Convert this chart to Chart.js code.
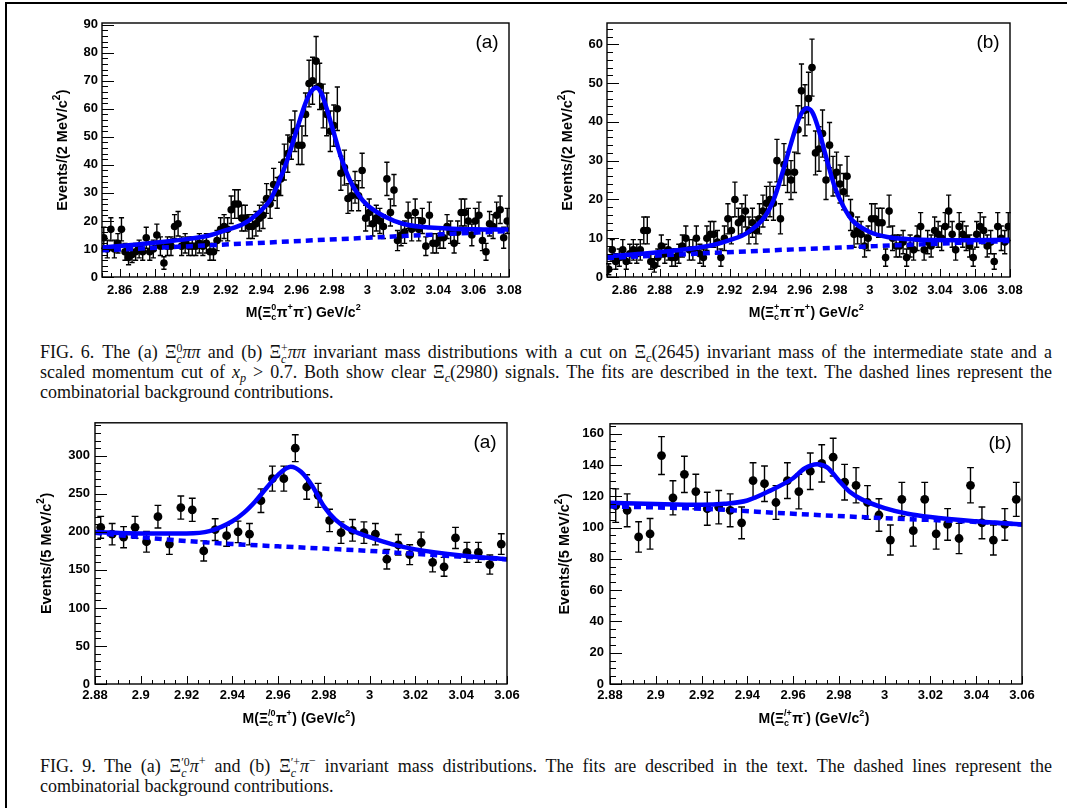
<!DOCTYPE html>
<html>
<head>
<meta charset="utf-8">
<title>Xi_c pi pi and Xi_c' pi invariant mass distributions</title>
<script src="https://cdn.jsdelivr.net/npm/chart.js@4.4.1/dist/chart.umd.min.js"></script>
<style>
  html, body { margin: 0; padding: 0; background: #fff; }
  body { width: 1067px; height: 808px; position: relative; overflow: hidden;
         font-family: "Liberation Serif", "Times New Roman", serif; }
  canvas { position: absolute; }
  .edge { position: absolute; background: #000; }
  .cap { position: absolute; left: 40px; width: 1012px; font-size: 18px; color: #111; }
  .ln { height: 20px; line-height: 20px; }
  .j { text-align: justify; text-align-last: justify; }
  .gap { display: inline-block; width: 8px; }
  .ss { display: inline-block; vertical-align: -0.42em; font-size: 0.66em; line-height: 0.95em; }
  .ss > span { display: block; }
  sub, sup { font-size: 0.68em; line-height: 0; }
  sub { vertical-align: -0.3em; }
  sup { vertical-align: 0.55em; }
</style>
</head>
<body>
<div class="edge" style="left:5px;top:2px;width:2px;height:806px"></div>
<div class="edge" style="left:5px;top:2px;width:1062px;height:2px"></div>

<canvas id="c1" width="530" height="330" style="left:0px;top:0px"></canvas>
<canvas id="c2" width="537" height="330" style="left:530px;top:0px"></canvas>
<canvas id="c3" width="530" height="325" style="left:0px;top:410px"></canvas>
<canvas id="c4" width="537" height="325" style="left:530px;top:410px"></canvas>

<div class="cap" style="top:342px">
  <div class="ln j">FIG. 6.<span class="gap"></span>The (a) Ξ<span class="ss"><span>0</span><span><i>c</i></span></span><i>ππ</i> and (b) Ξ<span class="ss"><span>+</span><span><i>c</i></span></span><i>ππ</i> invariant mass distributions with a cut on Ξ<sub><i>c</i></sub>(2645) invariant mass of the intermediate state and a</div>
  <div class="ln j">scaled momentum cut of <i>x</i><sub><i>p</i></sub> &gt; 0.7. Both show clear Ξ<sub><i>c</i></sub>(2980) signals. The fits are described in the text. The dashed lines represent the</div>
  <div class="ln">combinatorial background contributions.</div>
</div>

<div class="cap" style="top:756px">
  <div class="ln j">FIG. 9.<span class="gap"></span>The (a) Ξ<span class="ss"><span>′0</span><span><i>c</i></span></span><i>π</i><sup>+</sup> and (b) Ξ<span class="ss"><span>′+</span><span><i>c</i></span></span><i>π</i><sup>−</sup> invariant mass distributions. The fits are described in the text. The dashed lines represent the</div>
  <div class="ln">combinatorial background contributions.</div>
</div>

<script>
// ---------------- histogram contents (events per bin) ----------------
// FIG. 6: 2 MeV/c^2 bins from 2.85 to 3.08 GeV/c^2
const binsFig6 = { low: 2.85, width: 0.002 };
const countsXi0PiPi = [
  14, 10, 17, 10, 12, 17, 9, 7, 8, 9,
  10, 9, 14, 9, 10, 15, 11, 5, 11, 11,
  18, 19, 11, 12, 11, 11, 11, 12, 11, 12,
  9, 9, 13, 17, 18, 17, 24, 26, 26, 21,
  21, 18, 18, 19, 21, 22, 28, 26, 33, 30,
  35, 41, 44, 49, 52, 47, 47, 58, 69, 70,
  77, 68, 61, 58, 52, 54, 60, 37, 39, 28,
  29, 32, 29, 38, 21, 23, 19, 21, 20, 18,
  35, 23, 31, 13, 15, 16, 22, 17, 23, 17,
  20, 11, 22, 12, 12, 14, 14, 18, 16, 12,
  16, 23, 23, 20, 15, 20, 22, 13, 9, 19,
  18, 22, 24, 14, 20
];
const countsXiPlusPiPi = [
  2, 7, 4, 5, 7, 4, 6, 7, 6, 7,
  12, 12, 4, 3, 5, 8, 6, 7, 5, 5,
  6, 8, 10, 7, 7, 10, 6, 5, 10, 11,
  11, 9, 5, 10, 15, 12, 20, 14, 15, 17,
  12, 14, 12, 15, 17, 19, 20, 19, 30, 15,
  29, 27, 25, 27, 38, 48, 43, 46, 54, 32,
  33, 37, 25, 34, 26, 27, 24, 22, 26, 16,
  11, 12, 11, 8, 10, 15, 15, 14, 14, 5,
  17, 10, 8, 8, 9, 5, 8, 7, 10, 13,
  7, 9, 8, 12, 11, 10, 13, 17, 11, 7,
  13, 11, 10, 8, 5, 11, 13, 12, 8, 9,
  4, 13, 10, 9, 13
];
// FIG. 9: 5 MeV/c^2 bins from 2.88 to 3.06 GeV/c^2
const binsFig9 = { low: 2.88, width: 0.005 };
const countsXiPrime0Pi = [
  206, 197, 193, 206, 187, 220, 184, 232, 229, 175,
  203, 195, 200, 197, 241, 270, 270, 310, 259, 248,
  215, 199, 202, 199, 197, 164, 183, 170, 186, 160,
  154, 192, 173, 173, 157, 184
];
const countsXiPrimePlusPi = [
  114, 111, 94, 96, 146, 119, 134, 123, 112, 113,
  111, 103, 130, 128, 116, 130, 123, 136, 141, 145,
  129, 127, 116, 108, 92, 118, 98, 118, 96, 102,
  93, 127, 103, 92, 102, 118
];

// ---------------- fitted curves (total fit and background) ----------------
const fitMassA6 = [2.85, 2.87, 2.89, 2.91, 2.92, 2.93, 2.94, 2.945, 2.95, 2.955, 2.96, 2.965, 2.968, 2.971, 2.974, 2.977, 2.98, 2.985, 2.99, 2.995, 3.00, 3.01, 3.02, 3.03, 3.04, 3.06, 3.08];
const fitValA6  = [10.5, 11.6, 12.9, 14.7, 16.7, 19.0, 23.8, 27.4, 34.0, 42.3, 52.4, 62.0, 66.0, 67.5, 65.5, 60.0, 53.6, 42.9, 34.6, 29.2, 25.6, 21.5, 19.0, 17.9, 17.5, 17.0, 16.9];
const bkgMassA6 = [2.85, 2.90, 2.95, 3.00, 3.05, 3.08];
const bkgValA6  = [9.5, 11.0, 12.5, 14.0, 15.5, 16.4];

const fitMassB6 = [2.85, 2.87, 2.89, 2.91, 2.92, 2.93, 2.94, 2.945, 2.95, 2.955, 2.96, 2.964, 2.967, 2.97, 2.975, 2.98, 2.985, 2.99, 3.00, 3.01, 3.03, 3.05, 3.08];
const fitValB6  = [5.3, 6.0, 6.9, 8.2, 9.5, 11.4, 15.5, 19.8, 26.7, 34.4, 41.3, 43.5, 42.6, 39.2, 31.0, 23.2, 18.1, 14.6, 11.6, 10.3, 9.6, 9.5, 9.6];
const bkgMassB6 = [2.85, 2.90, 2.95, 3.00, 3.05, 3.08];
const bkgValB6  = [4.9, 6.0, 7.0, 7.9, 8.8, 9.3];

const fitMassA9 = [2.88, 2.90, 2.92, 2.93, 2.94, 2.945, 2.95, 2.955, 2.96, 2.9655, 2.97, 2.975, 2.98, 2.985, 2.99, 3.00, 3.01, 3.02, 3.04, 3.06];
const fitValA9  = [200, 198, 198, 201, 214, 225, 240, 258, 275, 285.6, 279, 260, 233.5, 216, 205, 193, 183.5, 177, 169, 164];
const bkgMassA9 = [2.88, 2.90, 2.92, 2.94, 2.96, 2.98, 3.00, 3.02, 3.04, 3.06];
const bkgValA9  = [198.7, 193, 188, 184, 181, 178, 175, 171, 167.4, 164];

const fitMassB9 = [2.88, 2.90, 2.92, 2.93, 2.94, 2.95, 2.96, 2.965, 2.9705, 2.975, 2.98, 2.985, 2.99, 3.00, 3.01, 3.02, 3.04, 3.06];
const fitValB9  = [115.8, 115.0, 114.5, 115.2, 117.3, 123.6, 131.5, 137.7, 140.4, 138.3, 130.0, 122.5, 118.0, 112.4, 108.8, 106.7, 104.0, 102.0];
const bkgMassB9 = [2.88, 2.92, 2.96, 3.00, 3.04, 3.06];
const bkgValB9  = [113.5, 112.0, 108.8, 106.0, 103.6, 102.0];

// ---------------- axis ticks and titles ----------------
const xTicksFig6 = [2.86, 2.88, 2.9, 2.92, 2.94, 2.96, 2.98, 3, 3.02, 3.04, 3.06, 3.08];
const xTicksFig9 = [2.88, 2.9, 2.92, 2.94, 2.96, 2.98, 3, 3.02, 3.04, 3.06];
const yTicksA6 = [0, 10, 20, 30, 40, 50, 60, 70, 80, 90];
const yTicksB6 = [0, 10, 20, 30, 40, 50, 60];
const yTicksA9 = [0, 50, 100, 150, 200, 250, 300];
const yTicksB9 = [0, 20, 40, 60, 80, 100, 120, 140, 160];

const xTitleA6 = 'M(Ξ_{c}^{0}π^{+}π^{-}) GeV/c^{2}';
const xTitleB6 = 'M(Ξ_{c}^{+}π^{-}π^{+}) GeV/c^{2}';
const xTitleA9 = 'M(Ξ_{c}^{/0}π^{+}) (GeV/c^{2})';
const xTitleB9 = 'M(Ξ_{c}^{/+}π^{-}) (GeV/c^{2})';
const yTitle6 = 'Events/(2 MeV/c^{2})';
const yTitle9 = 'Events/(5 MeV/c^{2})';

// ---------------- helpers ----------------
const SANS = '"Liberation Sans", Arial, Helvetica, sans-serif';

function histPoints(counts, bins) {
  // bin centres with Poisson (sqrt N) uncertainties
  return counts.map((n, i) => ({ x: bins.low + (i + 0.5) * bins.width, y: n, e: Math.sqrt(n) }));
}
function curvePoints(xs, ys) { return xs.map((x, i) => ({ x, y: ys[i] })); }

// tiny markup parser: "_{..}" subscript, "^{..}" superscript, adjacent pair stacks
function parseRich(src) {
  const out = [];
  let i = 0, buf = '';
  const grab = () => { const j = src.indexOf('}', i + 2); const t = src.slice(i + 2, j); i = j + 1; return t; };
  while (i < src.length) {
    const ch = src[i];
    if ((ch === '_' || ch === '^') && src[i + 1] === '{') {
      if (buf) { out.push({ t: buf }); buf = ''; }
      const first = ch;
      const a = grab();
      let sub = first === '_' ? a : '';
      let sup = first === '^' ? a : '';
      const nx = src[i];
      if ((nx === '_' || nx === '^') && nx !== first && src[i + 1] === '{') {
        const b = grab();
        if (nx === '_') sub = b; else sup = b;
      }
      out.push({ sub, sup });
    } else { buf += ch; i++; }
  }
  if (buf) out.push({ t: buf });
  return out;
}

function drawRich(ctx, src, cx, cy, size, angle) {
  const parts = parseRich(src);
  const big = `bold ${size}px ${SANS}`;
  const small = `bold ${Math.round(size * 0.66)}px ${SANS}`;
  let total = 0;
  parts.forEach(p => {
    if (p.t !== undefined) { ctx.font = big; p.w = ctx.measureText(p.t).width; }
    else { ctx.font = small; p.w = Math.max(ctx.measureText(p.sub).width, ctx.measureText(p.sup).width) + 0.5; }
    total += p.w;
  });
  ctx.save();
  ctx.translate(cx, cy);
  ctx.rotate(angle);
  ctx.fillStyle = '#000';
  ctx.textBaseline = 'middle';
  ctx.textAlign = 'left';
  let x = -total / 2;
  parts.forEach(p => {
    if (p.t !== undefined) { ctx.font = big; ctx.fillText(p.t, x, 0); }
    else {
      ctx.font = small;
      if (p.sup) ctx.fillText(p.sup, x, -0.4 * size);
      if (p.sub) ctx.fillText(p.sub, x, 0.3 * size);
    }
    x += p.w;
  });
  ctx.restore();
}

// ROOT-like frame: inner tick marks, titles, pad label, error bars
function rootPad(P) {
  return {
    id: 'rootPad',
    beforeDatasetsDraw(chart) {
      const ctx = chart.ctx, xs = chart.scales.x, ys = chart.scales.y;
      ctx.save();
      ctx.strokeStyle = '#000';
      ctx.lineWidth = 1.4;
      P.points.forEach(p => {
        const px = xs.getPixelForValue(p.x);
        const lo = ys.getPixelForValue(p.y - p.e), hi = ys.getPixelForValue(p.y + p.e);
        ctx.beginPath();
        ctx.moveTo(px, lo); ctx.lineTo(px, hi);
        ctx.moveTo(px - P.cap, lo); ctx.lineTo(px + P.cap, lo);
        ctx.moveTo(px - P.cap, hi); ctx.lineTo(px + P.cap, hi);
        ctx.stroke();
      });
      ctx.restore();
    },
    afterDraw(chart) {
      const ctx = chart.ctx, xs = chart.scales.x, ys = chart.scales.y;
      const a = chart.chartArea;
      ctx.save();
      ctx.strokeStyle = '#000';
      ctx.lineWidth = 1;
      ctx.beginPath();
      // y axis ticks (pointing into the frame)
      const ny = Math.round(P.yMax / P.yMinor);
      for (let i = 0; i <= ny; i++) {
        const v = i * P.yMinor;
        if (v > P.yMax) break;
        const major = P.yTicks.some(t => Math.abs(t - v) < 1e-9);
        const py = Math.round(ys.getPixelForValue(v)) + 0.5;
        ctx.moveTo(a.left, py); ctx.lineTo(a.left + (major ? 12 : 6), py);
      }
      // x axis ticks
      const nx = Math.round((P.xMax - P.xMin) / P.xMinor);
      for (let i = 0; i <= nx; i++) {
        const v = P.xMin + i * P.xMinor;
        const major = P.xTicks.some(t => Math.abs(t - v) < 1e-7);
        const px = Math.round(xs.getPixelForValue(v)) + 0.5;
        ctx.moveTo(px, a.bottom); ctx.lineTo(px, a.bottom - (major ? 8 : 4));
      }
      ctx.stroke();
      // frame
      ctx.lineWidth = 1.4;
      ctx.strokeRect(a.left, a.top, a.right - a.left, a.bottom - a.top);
      ctx.restore();
      // axis titles
      drawRich(ctx, P.xTitle, (a.left + a.right) / 2 - 2, a.bottom + P.xTitleDy, 14, 0);
      drawRich(ctx, P.yTitle, a.left - P.yTitleDx, (a.top + a.bottom) / 2, 14.5, -Math.PI / 2);
      // pad label
      ctx.save();
      ctx.font = `19px ${SANS}`;
      ctx.fillStyle = '#000';
      ctx.textAlign = 'center';
      ctx.textBaseline = 'middle';
      ctx.fillText(P.label, a.right - 22, a.top + 20);
      ctx.restore();
    }
  };
}

function makeChart(id, P) {
  const tickFont = { family: SANS, weight: 'bold', size: 13 };
  new Chart(document.getElementById(id), {
    type: 'scatter',
    data: {
      datasets: [
        { type: 'line', data: P.fit, borderColor: '#0000ff', borderWidth: 4.5, pointRadius: 0,
          cubicInterpolationMode: 'monotone', fill: false, order: 0 },
        { type: 'line', data: P.bkg, borderColor: '#0000ff', borderWidth: 4.5, borderDash: [7, 5],
          borderCapStyle: 'butt', pointRadius: 0, cubicInterpolationMode: 'monotone', fill: false, order: 1 },
        { data: P.points, pointRadius: P.r, pointBackgroundColor: '#000', pointBorderWidth: 0,
          pointStyle: 'circle', order: 2 }
      ]
    },
    options: {
      responsive: false,
      animation: false,
      events: [],
      layout: { padding: { left: 0, top: P.padTop, right: P.padRight, bottom: 0 } },
      plugins: { legend: { display: false }, tooltip: { enabled: false } },
      scales: {
        x: {
          type: 'linear', min: P.xMin, max: P.xMax,
          grid: { display: false, drawTicks: false }, border: { display: false },
          afterBuildTicks: s => { s.ticks = P.xTicks.map(v => ({ value: v })); },
          afterFit: s => { s.height = P.xAxisH; },
          ticks: { autoSkip: false, maxRotation: 0, minRotation: 0, padding: P.xPad, color: '#000',
                   font: tickFont, callback: v => String(v) }
        },
        y: {
          type: 'linear', min: 0, max: P.yMax,
          grid: { display: false, drawTicks: false }, border: { display: false },
          afterBuildTicks: s => { s.ticks = P.yTicks.map(v => ({ value: v })); },
          afterFit: s => { s.width = P.yAxisW; },
          ticks: { autoSkip: false, padding: P.yPad, color: '#000', font: tickFont, callback: v => String(v) }
        }
      }
    },
    plugins: [rootPad(P)]
  });
}

// ---------------- the four pads ----------------
makeChart('c1', {
  points: histPoints(countsXi0PiPi, binsFig6), fit: curvePoints(fitMassA6, fitValA6), bkg: curvePoints(bkgMassA6, bkgValA6),
  xMin: 2.85, xMax: 3.08, xMinor: 0.005, xTicks: xTicksFig6,
  yMax: 90.6, yMinor: 2, yTicks: yTicksA6,
  xTitle: xTitleA6, yTitle: yTitle6, label: '(a)',
  r: 3.8, cap: 2.6, padTop: 23, padRight: 21, yAxisW: 102, xAxisH: 53, xPad: 6, yPad: 4,
  xTitleDy: 36, yTitleDx: 39
});
makeChart('c2', {
  points: histPoints(countsXiPlusPiPi, binsFig6), fit: curvePoints(fitMassB6, fitValB6), bkg: curvePoints(bkgMassB6, bkgValB6),
  xMin: 2.85, xMax: 3.08, xMinor: 0.005, xTicks: xTicksFig6,
  yMax: 65.5, yMinor: 2, yTicks: yTicksB6,
  xTitle: xTitleB6, yTitle: yTitle6, label: '(b)',
  r: 3.8, cap: 2.6, padTop: 23, padRight: 57, yAxisW: 77, xAxisH: 53, xPad: 6, yPad: 4,
  xTitleDy: 36, yTitleDx: 39
});
makeChart('c3', {
  points: histPoints(countsXiPrime0Pi, binsFig9), fit: curvePoints(fitMassA9, fitValA9), bkg: curvePoints(bkgMassA9, bkgValA9),
  xMin: 2.88, xMax: 3.06, xMinor: 0.005, xTicks: xTicksFig9,
  yMax: 343.4, yMinor: 10, yTicks: yTicksA9,
  xTitle: xTitleA9, yTitle: yTitle9, label: '(a)',
  r: 4.4, cap: 3.4, padTop: 11, padRight: 23, yAxisW: 95, xAxisH: 51, xPad: 4, yPad: 5,
  xTitleDy: 35, yTitleDx: 48
});
makeChart('c4', {
  points: histPoints(countsXiPrimePlusPi, binsFig9), fit: curvePoints(fitMassB9, fitValB9), bkg: curvePoints(bkgMassB9, bkgValB9),
  xMin: 2.88, xMax: 3.06, xMinor: 0.005, xTicks: xTicksFig9,
  yMax: 166.3, yMinor: 5, yTicks: yTicksB9,
  xTitle: xTitleB9, yTitle: yTitle9, label: '(b)',
  r: 4.4, cap: 3.4, padTop: 11, padRight: 45, yAxisW: 80, xAxisH: 51, xPad: 4, yPad: 6,
  xTitleDy: 35, yTitleDx: 45
});
</script>
</body>
</html>
